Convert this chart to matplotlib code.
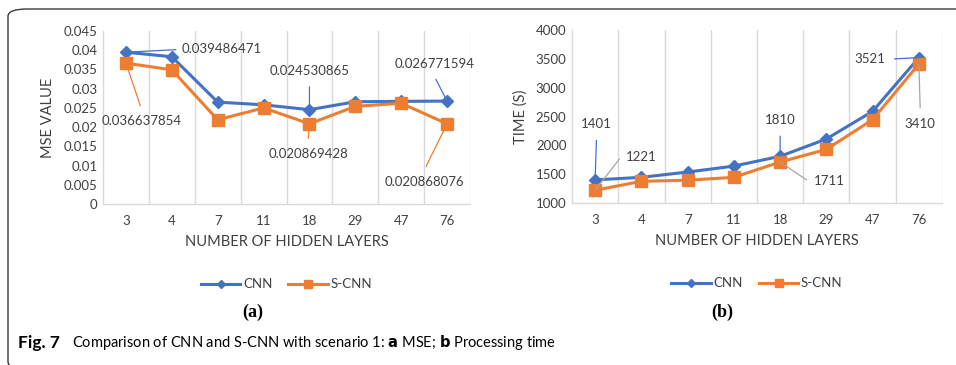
import matplotlib.pyplot as plt
from matplotlib.patches import FancyBboxPatch

plt.rcParams['font.family'] = ['Lato', 'DejaVu Sans']

# data
layers = ['3', '4', '7', '11', '18', '29', '47', '76']
mse_cnn = [0.039486471, 0.0383, 0.0265, 0.0258, 0.024530865, 0.0266, 0.0267, 0.026771594]
mse_scnn = [0.036637854, 0.0349, 0.0219, 0.0250, 0.020869428, 0.0254, 0.0262, 0.020868076]
time_cnn = [1401, 1445, 1537, 1640, 1810, 2110, 2590, 3521]
time_scnn = [1221, 1376, 1395, 1445, 1711, 1930, 2445, 3410]

BLUE = '#4472C4'
ORANGE = '#ED7D31'
GREY = '#A5A5A5'
GRID = '#D9D9D9'
TXT = '#404040'

fig = plt.figure(figsize=(9.56, 3.65), dpi=100)

# rounded frame around the figure (right and bottom edges run off the image)
frame = FancyBboxPatch((8 / 956, -4 / 365), 1.2, 360 / 365,
                       boxstyle='round,pad=0,rounding_size=0.02',
                       transform=fig.transFigure, fill=False,
                       edgecolor='#3a3a3a', lw=1.0, clip_on=False)
fig.patches.append(frame)

ax1 = fig.add_axes([103 / 956, 161 / 365, 367 / 956, 173 / 365])
ax2 = fig.add_axes([572 / 956, 162 / 365, 370 / 956, 173 / 365])

x = list(range(len(layers)))


def style(ax, ylim, yticks, yfmt, ylabel):
    ax.set_xlim(-0.5, len(layers) - 0.5)
    ax.set_ylim(*ylim)
    ax.set_yticks(yticks)
    ax.set_yticklabels([yfmt(v) for v in yticks], fontsize=9.5, color=TXT)
    ax.set_xticks(x)
    ax.set_xticklabels(layers, fontsize=9.5, color=TXT)
    ax.tick_params(length=0, pad=8)
    ax.tick_params(axis='y', pad=4)
    for s in ['top', 'right']:
        ax.spines[s].set_visible(False)
    for s in ['left', 'bottom']:
        ax.spines[s].set_color(GRID)
        ax.spines[s].set_linewidth(1.0)
    for b in range(len(layers)):
        ax.axvline(b + 0.5, color=GRID, lw=1.0, zorder=0)
    ax.set_xlabel('NUMBER OF HIDDEN LAYERS', fontsize=10.5, color=TXT, labelpad=6)
    ax.set_ylabel(ylabel, fontsize=10.5, color=TXT, labelpad=6)
    leg = ax.legend(loc='upper center', bbox_to_anchor=(0.5, -0.36), ncol=2, frameon=False,
                    fontsize=9.5, handlelength=3.0, columnspacing=1.2, handletextpad=0.2,
                    markerscale=0.7)
    for t in leg.get_texts():
        t.set_color(TXT)


ax1.plot(x, mse_cnn, color=BLUE, lw=2.2, marker='D', ms=6, label='CNN', zorder=3)
ax1.plot(x, mse_scnn, color=ORANGE, lw=2.2, marker='s', ms=8, label='S-CNN', zorder=3)
style(ax1, (0, 0.045), [i * 0.005 for i in range(10)],
      lambda v: '0' if v == 0 else ('%.3f' % v).rstrip('0'), 'MSE VALUE')

ax2.plot(x, time_cnn, color=BLUE, lw=2.2, marker='D', ms=6, label='CNN', zorder=3)
ax2.plot(x, time_scnn, color=ORANGE, lw=2.2, marker='s', ms=8, label='S-CNN', zorder=3)
style(ax2, (1000, 4000), list(range(1000, 4001, 500)), lambda v: str(v), 'TIME (S)')


def callout(ax, xi, yv, text, off, color, ha='center', va='center', relpos=(0.5, 0.5)):
    ax.annotate(text, (xi, yv), xytext=off, textcoords='offset points',
                ha=ha, va=va, fontsize=9.5, color=TXT, zorder=5,
                arrowprops=dict(arrowstyle='-', color=color, lw=0.9,
                                shrinkA=2, shrinkB=0, relpos=relpos))


callout(ax1, 0, mse_cnn[0], '%.9f' % mse_cnn[0], (40, 2), BLUE, ha='left', relpos=(0, 0.5))
callout(ax1, 0, mse_scnn[0], '%.9f' % mse_scnn[0], (11, -42), ORANGE, relpos=(0.5, 1.6))
callout(ax1, 4, mse_cnn[4], '%.9f' % mse_cnn[4], (0, 28), BLUE, relpos=(0.5, -0.6))
callout(ax1, 4, mse_scnn[4], '%.9f' % mse_scnn[4], (-1, -22), ORANGE, relpos=(0.5, 1.6))
callout(ax1, 7, mse_cnn[7], '%.9f' % mse_cnn[7], (-9, 27), BLUE, relpos=(0.5, -0.6))
callout(ax1, 7, mse_scnn[7], '%.9f' % mse_scnn[7], (-16, -42), ORANGE, relpos=(0.5, 1.6))

callout(ax2, 0, time_cnn[0], str(time_cnn[0]), (1, 40), BLUE, relpos=(0.5, -0.6))
callout(ax2, 0, time_scnn[0], str(time_scnn[0]), (22, 24), GREY, ha='left', relpos=(-0.15, 0.5))
callout(ax2, 4, time_cnn[4], str(time_cnn[4]), (0, 26), BLUE, relpos=(0.5, -0.6))
callout(ax2, 4, time_scnn[4], str(time_scnn[4]), (24, -14), GREY, ha='left', relpos=(-0.15, 0.5))
callout(ax2, 7, time_cnn[7], str(time_cnn[7]), (-24, -1), BLUE, ha='right', relpos=(1.2, 0.5))
callout(ax2, 7, time_scnn[7], str(time_scnn[7]), (1, -43), GREY, relpos=(0.5, 1.6))

fig.text(253 / 956, 1 - 312 / 365, '(a)', ha='center', va='center', fontsize=13,
         family='Liberation Serif', fontweight='bold', color='black')
fig.text(722 / 956, 1 - 312 / 365, '(b)', ha='center', va='center', fontsize=13,
         family='Liberation Serif', fontweight='bold', color='black')

fig.text(18 / 956, 1 - 343 / 365, 'Fig. 7', ha='left', va='center', fontsize=12.5,
         fontweight='bold', color='black')
fig.text(72 / 956, 1 - 343 / 365,
         r'Comparison of CNN and S-CNN with scenario 1: $\bf{a}$ MSE; $\bf{b}$ Processing time',
         ha='left', va='center', fontsize=10.5, color='black')

fig.savefig('out.png', dpi=100)
